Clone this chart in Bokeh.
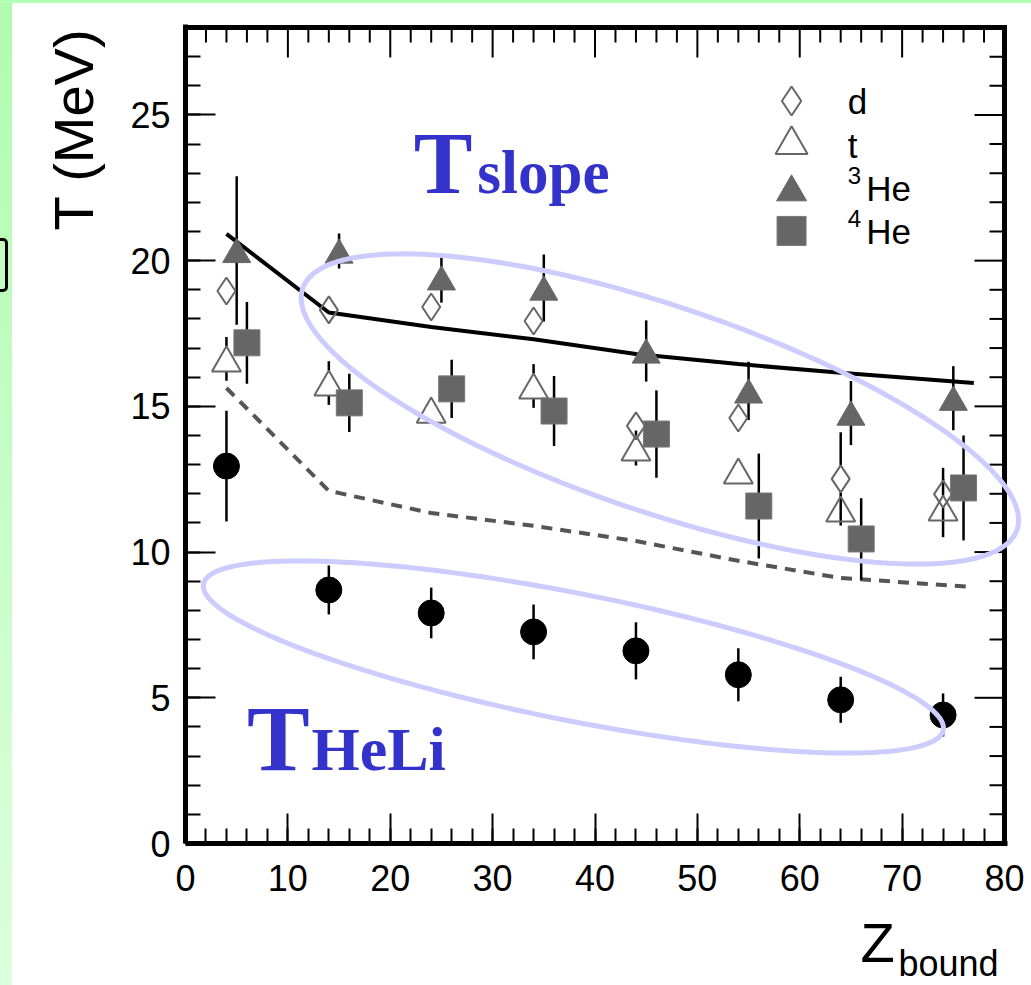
import numpy as np
from bokeh.plotting import figure
from bokeh.models import Range1d, FixedTicker, Div
from bokeh.layouts import column, row
from bokeh.embed import file_html
from bokeh.resources import INLINE
from bokeh.core.properties import value

# ---------------- data ----------------
z_d = [4, 14, 24, 34, 44, 54, 64, 74]
t_d = [18.96, 18.31, 18.41, 17.93, 14.33, 14.60, 12.51, 11.99]
e_d = [0.3, 0.25, 0.3, 0.3, 0.4, 0.3, 1.6, 0.9]

z_t = [4, 14, 24, 34, 44, 54, 64, 74]
t_t = [16.63, 15.80, 14.87, 15.70, 13.57, 12.78, 11.48, 11.51]
e_t = [0.75, 0.75, 0.2, 0.75, 0.6, 0.2, 0.3, 1.0]

z_he3 = [5, 15, 25, 35, 45, 55, 65, 75]
t_he3 = [20.35, 20.33, 19.41, 19.06, 16.90, 15.53, 14.77, 15.28]
e_he3 = [2.55, 0.6, 0.85, 1.15, 1.05, 1.0, 1.1, 1.1]

z_he4 = [6, 16, 26, 36, 46, 56, 66, 76]
t_he4 = [17.18, 15.12, 15.60, 14.84, 14.05, 11.58, 10.45, 12.20]
e_he4 = [1.4, 1.0, 1.0, 1.2, 1.5, 1.8, 1.4, 1.8]

z_heli = [4, 14, 24, 34, 44, 54, 64, 74]
t_heli = [12.95, 8.70, 7.91, 7.26, 6.61, 5.79, 4.93, 4.41]
e_heli = [1.9, 0.84, 0.87, 0.94, 0.98, 0.91, 0.79, 0.74]

z_solid = [4, 14, 24, 34, 44, 54, 64, 77]
t_solid = [20.92, 18.22, 17.72, 17.30, 16.80, 16.45, 16.15, 15.80]

z_dash = [4, 14, 24, 34, 44, 54, 64, 77]
t_dash = [15.63, 12.10, 11.34, 10.90, 10.38, 9.70, 9.11, 8.80]

x_ticks = [0, 10, 20, 30, 40, 50, 60, 70, 80]
x_minor = list(range(0, 81, 2))
y_ticks = [0, 5, 10, 15, 20, 25]
y_minor = list(range(0, 29, 1))

legend_labels = ["d", "t", "He", "He"]
legend_sup = ["", "", "3", "4"]

# ---------------- geometry ----------------
X_MAX, Y_MAX = 80, 28
FW, FH = 836, 819
sx = 819 / 80.0          # px per x unit
sy = 816 / 28.0          # px per y unit
XR = (0, FW / sx)
YR = (0, FH / sy)

GREY = "#666666"
BLUE = "#3333cc"
SANS = "Liberation Sans"
SERIF = "Liberation Serif"

p = figure(width=911, height=902, x_range=Range1d(*XR), y_range=Range1d(*YR),
           output_backend="svg", toolbar_location=None,
           min_border_left=65, min_border_right=10, min_border_top=21, min_border_bottom=62)
p.background_fill_color = "white"
p.border_fill_color = "white"
p.outline_line_color = None
p.grid.visible = False

for ax, tk, mn in [(p.xaxis[0], x_ticks, x_minor), (p.yaxis[0], y_ticks, y_minor)]:
    ax.ticker = FixedTicker(ticks=tk, minor_ticks=mn)
    ax.axis_line_width = 5
    ax.axis_line_color = "black"
    ax.major_tick_in = 30
    ax.major_tick_out = 0
    ax.minor_tick_in = 15
    ax.minor_tick_out = 0
    ax.major_tick_line_width = 2
    ax.minor_tick_line_width = 2
    ax.major_tick_line_color = "black"
    ax.minor_tick_line_color = "black"
    ax.major_label_text_font = SANS
    ax.major_label_text_font_size = "36px"
    ax.major_label_text_color = "black"
p.xaxis[0].bounds = (0, X_MAX + 0.25)
p.xaxis[0].major_label_standoff = 21
p.yaxis[0].major_label_standoff = 15

# top / right frame with inward ticks (drawn from the tick lists)
p.segment(x0=[0], y0=[Y_MAX], x1=[X_MAX], y1=[Y_MAX], line_color="black", line_width=5, line_cap="square")
p.segment(x0=[X_MAX], y0=[0], x1=[X_MAX], y1=[Y_MAX], line_color="black", line_width=5, line_cap="square")
tmaj = [t for t in x_ticks]
tmin = [t for t in x_minor if t not in x_ticks]
p.segment(x0=tmaj, y0=[Y_MAX] * len(tmaj), x1=tmaj, y1=[Y_MAX - 30 / sy] * len(tmaj), line_color="black", line_width=2)
p.segment(x0=tmin, y0=[Y_MAX] * len(tmin), x1=tmin, y1=[Y_MAX - 15 / sy] * len(tmin), line_color="black", line_width=2)
rmaj = [t for t in y_ticks]
rmin = [t for t in y_minor if t not in y_ticks]
p.segment(x0=[X_MAX] * len(rmaj), y0=rmaj, x1=[X_MAX - 30 / sx] * len(rmaj), y1=rmaj, line_color="black", line_width=2)
p.segment(x0=[X_MAX] * len(rmin), y0=rmin, x1=[X_MAX - 15 / sx] * len(rmin), y1=rmin, line_color="black", line_width=2)

# model curves
p.line(z_solid, t_solid, line_color="black", line_width=4)
p.line(z_dash, t_dash, line_color="#555555", line_width=4, line_dash="11 8")

# error bars (open markers: drawn only outside the marker)
def bars(xs, ys, es, gap_up=0.0, gap_dn=0.0):
    x0, y0, x1, y1 = [], [], [], []
    for x, y, e in zip(xs, ys, es):
        if e > gap_up:
            x0.append(x); y0.append(y + gap_up); x1.append(x); y1.append(y + e)
        if e > gap_dn:
            x0.append(x); y0.append(y - gap_dn); x1.append(x); y1.append(y - e)
    p.segment(x0=x0, y0=y0, x1=x1, y1=y1, line_color="black", line_width=2.5)

D_SIZE, T_SIZE = 27, 29
bars(z_d, t_d, e_d, D_SIZE / 2 / sy, D_SIZE / 2 / sy)
tri_h = T_SIZE * np.sqrt(3) / 2
bars(z_t, t_t, e_t, tri_h / 2 / sy, tri_h / 2 / sy)
bars(z_he3, t_he3, e_he3)
bars(z_he4, t_he4, e_he4)
bars(z_heli, t_heli, e_heli)

# bokeh triangles are centred on the centroid; shift so the box centre sits on the point
def tri_shift(size):
    return size * np.sqrt(3) / 2 / 6 / sy

p.scatter(z_d, t_d, marker="diamond", size=D_SIZE, fill_color=None, line_color=GREY, line_width=2)
p.scatter(z_t, [v - tri_shift(T_SIZE) for v in t_t], marker="triangle", size=T_SIZE,
          fill_color=None, line_color=GREY, line_width=2)
p.scatter(z_he3, [v - tri_shift(28) for v in t_he3], marker="triangle", size=28, fill_color=GREY, line_color=GREY)
p.scatter(z_he4, t_he4, marker="square", size=26, fill_color=GREY, line_color="#777777")
p.scatter(z_heli, t_heli, marker="circle", size=26, fill_color="black", line_color="black")

# ---------------- legend (manual) ----------------
lg_x, lg_tx, lg_hx = 59.2, 64.7, 66.5
lg_y = [25.48, 23.98, 22.35, 21.02]
lg_mid = [25.45, 23.96, 22.46, 20.99]
lg_sup_mid = [0, 0, 22.92, 21.44]
p.scatter([lg_x], [lg_y[0]], marker="diamond", size=29, fill_color=None, line_color=GREY, line_width=2)
p.scatter([lg_x], [lg_y[1]], marker="triangle", size=32, fill_color=None, line_color=GREY, line_width=2)
p.scatter([lg_x], [lg_y[2]], marker="triangle", size=30, fill_color=GREY, line_color=GREY)
p.scatter([lg_x], [lg_y[3]], marker="square", size=29, fill_color=GREY, line_color="#777777")
for i, lab in enumerate(legend_labels):
    if legend_sup[i]:
        p.text(x=[lg_tx], y=[lg_sup_mid[i]], text=[legend_sup[i]], text_font=value(SANS),
               text_font_size="24px", text_color="black", text_baseline="middle", text_align="left")
        p.text(x=[lg_hx], y=[lg_mid[i]], text=[lab], text_font=value(SANS),
               text_font_size="35px", text_color="black", text_baseline="middle", text_align="left")
    else:
        p.text(x=[lg_tx], y=[lg_mid[i]], text=[lab], text_font=value(SANS),
               text_font_size="35px", text_color="black", text_baseline="middle", text_align="left")

# ---------------- ellipses ----------------
def ellipse_poly(cx, cy, a, b, deg):
    t = np.linspace(0, 2 * np.pi, 241)
    phi = np.deg2rad(deg)
    dx = a * np.cos(t) * np.cos(phi) - b * np.sin(t) * np.sin(phi)
    dy = a * np.cos(t) * np.sin(phi) + b * np.sin(t) * np.cos(phi)
    return list(cx + dx / sx), list(cy + dy / sy)

for (cx, cy, a, b, deg) in [(46.34, 14.91, 377, 103, -18.65), (37.89, 6.40, 377, 63.5, -11.18)]:
    xs, ys = ellipse_poly(cx, cy, a, b, deg)
    p.line(xs, ys, line_color="#ccccff", line_width=5)

# ---------------- blue labels ----------------
for (x, y, txt, size) in [(22.3, 23.34, "T", 88), (28.5, 23.03, "slope", 61),
                          (6.0, 3.61, "T", 94), (12.3, 3.24, "HeLi", 62)]:
    p.text(x=[x], y=[y], text=[txt], text_font=value(SERIF), text_font_style="bold",
           text_font_size=f"{size}px", text_color=BLUE, text_baseline="middle", text_align="left")

# ---------------- axis titles (own small canvases) ----------------
def blank(w, h):
    f = figure(width=w, height=h, x_range=Range1d(0, w), y_range=Range1d(0, h),
               output_backend="svg", toolbar_location=None, x_axis_type=None, y_axis_type=None,
               min_border=0, min_border_left=0, min_border_right=0, min_border_top=0, min_border_bottom=0)
    f.outline_line_color = None
    f.grid.visible = False
    f.background_fill_color = "white"
    f.border_fill_color = "white"
    return f

ytitle = blank(108, 902)
ytitle.text(x=[60.5], y=[675], text=["T (MeV)"], angle=np.pi / 2, text_font=value(SANS),
            text_font_size="56px", text_color="black", text_baseline="middle", text_align="left")

xtitle = blank(1019, 80)
xtitle.text(x=[848], y=[43], text=["Z"], text_font=value(SANS),
            text_font_size="56px", text_color="black", text_baseline="middle", text_align="left")
xtitle.text(x=[886], y=[22], text=["bound"], text_font=value(SANS),
            text_font_size="36px", text_color="black", text_baseline="middle", text_align="left")

# ---------------- slide background strips ----------------
top_strip = Div(width=1031, height=3, margin=0, styles={"background-color": "#b3ffb3"})
left_strip = Div(width=12, height=982, margin=0,
                 styles={"background": "linear-gradient(#b0fbb0, #dcffdc)", "overflow": "hidden"},
                 text='<div style="margin-top:235px;margin-left:-8px;width:16px;height:54px;'
                      'border:3px solid #000;border-radius:5px;background:#c4ffc4"></div>')
for f in (p, ytitle, xtitle):
    f.margin = 0

layout = column(top_strip,
                row(left_strip,
                    column(row(ytitle, p, spacing=0), xtitle, spacing=0),
                    spacing=0),
                spacing=0)

open("out.html", "w").write(file_html(layout, INLINE))
